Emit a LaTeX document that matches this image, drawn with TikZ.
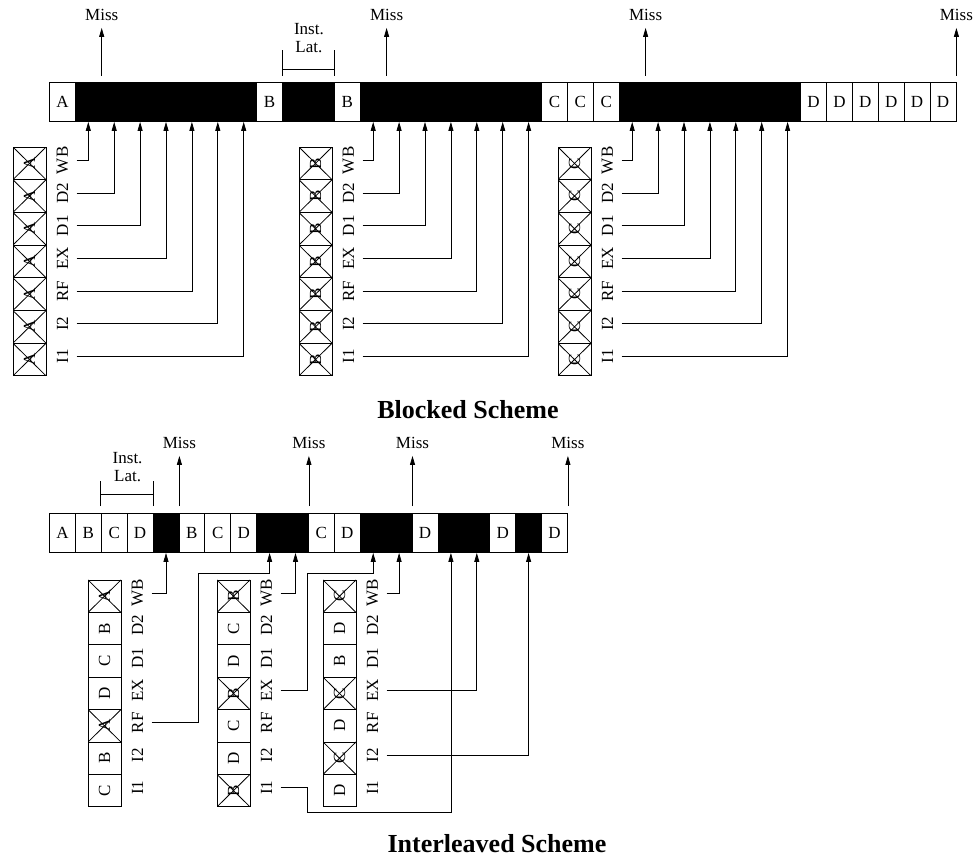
\documentclass[tikz,border=0pt]{standalone}
\usepackage{fontspec}
\setmainfont{Liberation Serif}
\usepackage{graphicx}
\usetikzlibrary{arrows.meta, positioning, calc}

\begin{document}
\begin{tikzpicture}[
  x=1pt, y=-1pt,
  every node/.style = {font=\fontsize{17}{18}\selectfont},
  cell/.style     = {rectangle, draw, line width=0.9pt, minimum width=25.9pt,
                     minimum height=39pt, inner sep=0pt, anchor=north west},
  busy/.style     = {cell, fill=black},
  stage/.style    = {rectangle, draw, line width=0.9pt, minimum width=33pt,
                     minimum height=32.5pt, inner sep=0pt},
  squash/.style   = {stage, path picture={
                       \draw[line width=0.8pt]
                         (path picture bounding box.north west) -- (path picture bounding box.south east)
                         (path picture bounding box.north east) -- (path picture bounding box.south west);}},
  stagelbl/.style = {minimum width=28pt, inner sep=0pt},
  misslbl/.style  = {inner xsep=1pt, inner ysep=7pt},
  title/.style    = {font=\fontsize{26}{30}\selectfont\bfseries},
  arrow/.style    = {-{Triangle[length=9pt,width=5pt]}, line width=0.8pt},
  line/.style     = {line width=0.8pt}
]
\useasboundingbox (0,0) rectangle (973,858);

%% Blocked scheme: issue slots
\foreach \c [count=\i] in {A,K,K,K,K,K,K,K,B,K,K,B,K,K,K,K,K,K,K,C,C,C,K,K,K,K,K,K,K,D,D,D,D,D,D}
  {\if\c K\node[busy] (t\i) at ({49+(\i-1)*25.9},82) {};
   \else\node[cell] (t\i) at ({49+(\i-1)*25.9},82) {\c};\fi}

%% Misses
\foreach \c [count=\n] in {t2,t13,t23,t35} {
  \coordinate (mb\n) at ($(\c.north east)+(0,-6)$);
  \node[misslbl] (missb\n) at ($(\c.north east)+(0,-67)$) {Miss};
  \draw[arrow] (mb\n) -- (missb\n);
}

%% Inst. latency
\draw[line] ($(t10.north west)+(0,-6)$) -- ++(0,-26)
            ($(t11.north east)+(0,-6)$) -- ++(0,-26)
            ($(t10.north west)+(0,-13)$) -- ($(t11.north east)+(0,-13)$);
\node[align=center] (latb) at ($(t10.north east)+(0,-44)$) {Inst.\\Lat.};

%% Squashed pipelines
\foreach \s/\x/\c in {1/13/A, 2/299/B, 3/558/C} {
  \foreach \lbl [count=\k] in {WB,D2,D1,EX,RF,I2,I1} {
    \node[squash] (b\s\lbl) at ({\x+16.5},{147+(\k-0.5)*32.7}) {\rotatebox{90}{\c}};
    \node[stagelbl] (bl\s\lbl) at ($(b\s\lbl.east)+(16,-3)$) {\rotatebox{90}{\lbl}};
  }
}
\foreach \s/\f in {1/1, 2/12, 3/22} {
  \foreach \lbl [count=\k] in {WB,D2,D1,EX,RF,I2,I1} {
    \pgfmathtruncatemacro\cc{\f+\k}
    \draw[arrow] (bl\s\lbl.east) -| (t\cc.south);
  }
}

\node[title] (blocked) at (468,410) {Blocked Scheme};

%% Interleaved scheme: issue slots
\foreach \c [count=\i] in {A,B,C,D,K,B,C,D,K,K,C,D,K,K,D,K,K,D,K,D}
  {\if\c K\node[busy] (i\i) at ({49+(\i-1)*25.9},513) {};
   \else\node[cell] (i\i) at ({49+(\i-1)*25.9},513) {\c};\fi}

\foreach \c [count=\n] in {i5,i10,i14,i20} {
  \coordinate (mi\n) at ($(\c.north east)+(0,-7)$);
  \node[misslbl] (missi\n) at ($(\c.north east)+(0,-70)$) {Miss};
  \draw[arrow] (mi\n) -- (missi\n);
}

\draw[line] ($(i3.north west)+(0,-7)$) -- ++(0,-25)
            ($(i4.north east)+(0,-7)$) -- ++(0,-25)
            ($(i3.north west)+(0,-19)$) -- ($(i4.north east)+(0,-19)$);
\node[align=center] (lati) at ($(i3.north east)+(0,-46)$) {Inst.\\Lat.};

%% Pipelines
\foreach \lbl/\c/\st [count=\k] in {WB/A/squash, D2/B/stage, D1/C/stage, EX/D/stage,
                                   RF/A/squash, I2/B/stage, I1/C/stage} {
  \node[\st] (p1\lbl) at (104.5,{580+(\k-0.5)*32.4}) {\rotatebox{90}{\c}};
  \node[stagelbl] (pl1\lbl) at ($(p1\lbl.east)+(16,-3)$) {\rotatebox{90}{\lbl}};
}
\foreach \lbl/\c/\st [count=\k] in {WB/B/squash, D2/C/stage, D1/D/stage, EX/B/squash,
                                   RF/C/stage, I2/D/stage, I1/B/squash} {
  \node[\st] (p2\lbl) at (233.5,{580+(\k-0.5)*32.4}) {\rotatebox{90}{\c}};
  \node[stagelbl] (pl2\lbl) at ($(p2\lbl.east)+(16,-3)$) {\rotatebox{90}{\lbl}};
}
\foreach \lbl/\c/\st [count=\k] in {WB/C/squash, D2/D/stage, D1/B/stage, EX/C/squash,
                                   RF/D/stage, I2/C/squash, I1/D/stage} {
  \node[\st] (p3\lbl) at (339.5,{580+(\k-0.5)*32.4}) {\rotatebox{90}{\c}};
  \node[stagelbl] (pl3\lbl) at ($(p3\lbl.east)+(16,-3)$) {\rotatebox{90}{\lbl}};
}

%% Arrows
\draw[arrow] (pl1WB.east) -| (i5.south);
\draw[arrow] (pl1RF.east) -- ++(47,0) |- ($(i9.south)+(0,20)$) -- (i9.south);
\draw[arrow] (pl2WB.east) -| (i10.south);
\draw[arrow] (pl2EX.east) -- ++(27,0) |- ($(i13.south)+(0,20)$) -- (i13.south);
\draw[arrow] (pl2I1.east) -- ++(27,0) -- ++(0,25) -| (i16.south);
\draw[arrow] (pl3WB.east) -| (i14.south);
\draw[arrow] (pl3EX.east) -| (i17.south);
\draw[arrow] (pl3I2.east) -| (i19.south);

\node[title] (interleaved) at (497,844) {Interleaved Scheme};

\end{tikzpicture}
\end{document}
